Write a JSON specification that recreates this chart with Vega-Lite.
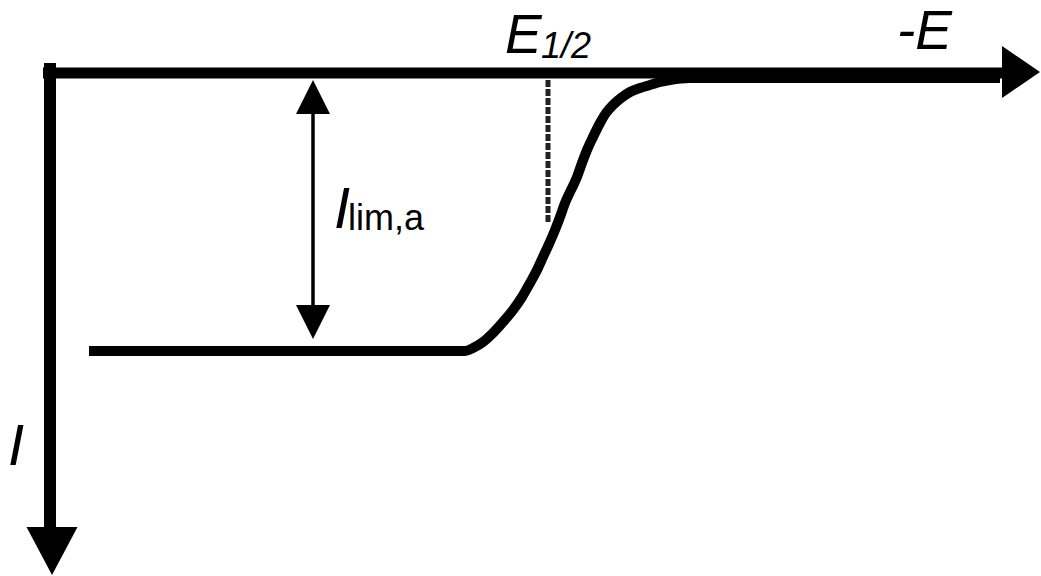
{
  "$schema": "https://vega.github.io/schema/vega-lite/v6.json",
  "width": 1041,
  "height": 576,
  "autosize": {"type": "fit", "contains": "padding"},
  "padding": 0,
  "background": "white",
  "config": {"view": {"stroke": null}},
  "encoding": {
    "x": {"field": "x", "type": "quantitative", "scale": {"domain": [0, 1041], "nice": false, "zero": false}, "axis": null},
    "y": {"field": "y", "type": "quantitative", "scale": {"domain": [0, 576], "nice": false, "zero": false, "reverse": true}, "axis": null}
  },
  "layer": [
    {
      "data": {"values": [{"x": 43, "y": 73, "x2": 1005, "y2": 73}]},
      "mark": {"type": "rule", "color": "#000", "strokeWidth": 11},
      "encoding": {"x2": {"field": "x2"}, "y2": {"field": "y2"}}
    },
    {
      "data": {"values": [{"x": 50, "y": 63, "x2": 50, "y2": 530}]},
      "mark": {"type": "rule", "color": "#000", "strokeWidth": 12},
      "encoding": {"x2": {"field": "x2"}, "y2": {"field": "y2"}}
    },
    {
      "data": {"values": [{"x": 548, "y": 80, "x2": 548, "y2": 222}]},
      "mark": {"type": "rule", "color": "#222", "strokeWidth": 5, "strokeDash": [7, 2]},
      "encoding": {"x2": {"field": "x2"}, "y2": {"field": "y2"}}
    },
    {
      "data": {"values": [{"x": 313, "y": 108, "x2": 313, "y2": 312}]},
      "mark": {"type": "rule", "color": "#000", "strokeWidth": 3.5},
      "encoding": {"x2": {"field": "x2"}, "y2": {"field": "y2"}}
    },
    {
      "data": {"values": [
        {"x": 89, "y": 351}, {"x": 465, "y": 351}, {"x": 473, "y": 348}, {"x": 483, "y": 342},
        {"x": 493, "y": 333}, {"x": 503, "y": 322}, {"x": 513, "y": 310}, {"x": 522, "y": 297},
        {"x": 530, "y": 283}, {"x": 537, "y": 270}, {"x": 543, "y": 257}, {"x": 549, "y": 244},
        {"x": 555, "y": 230}, {"x": 560, "y": 217}, {"x": 565, "y": 203}, {"x": 571, "y": 190},
        {"x": 577, "y": 177}, {"x": 582, "y": 163}, {"x": 587, "y": 150}, {"x": 593, "y": 137},
        {"x": 600, "y": 123}, {"x": 606, "y": 113}, {"x": 613, "y": 105}, {"x": 621, "y": 98},
        {"x": 630, "y": 92}, {"x": 640, "y": 88}, {"x": 650, "y": 85}, {"x": 660, "y": 82},
        {"x": 670, "y": 80}, {"x": 690, "y": 78}, {"x": 1000, "y": 78}
      ]},
      "mark": {"type": "line", "color": "#000", "strokeWidth": 10, "interpolate": "monotone"},
      "encoding": {"order": {"field": "x", "type": "quantitative"}}
    },
    {
      "data": {"values": [{"x": 1021, "y": 72}]},
      "mark": {"type": "point", "filled": true, "opacity": 1, "color": "#000", "size": 2704, "shape": "M-0.73,-1L0.73,0L-0.73,1Z"}
    },
    {
      "data": {"values": [{"x": 52, "y": 551}]},
      "mark": {"type": "point", "filled": true, "opacity": 1, "color": "#000", "size": 2601, "shape": "M-1,-0.94L1,-0.94L0,0.94Z"}
    },
    {
      "data": {"values": [{"x": 313, "y": 97}]},
      "mark": {"type": "point", "filled": true, "opacity": 1, "color": "#000", "size": 1156, "shape": "M0,-1L1,1L-1,1Z"}
    },
    {
      "data": {"values": [{"x": 313, "y": 322}]},
      "mark": {"type": "point", "filled": true, "opacity": 1, "color": "#000", "size": 1156, "shape": "M-1,-1L1,-1L0,1Z"}
    },
    {
      "data": {"values": [{"x": 505, "y": 53, "label": "E"}, {"x": 897, "y": 49, "label": "-E"}]},
      "mark": {"type": "text", "font": "Liberation Sans", "fontStyle": "italic", "fontSize": 55, "align": "left", "baseline": "alphabetic", "color": "#000"},
      "encoding": {"text": {"field": "label"}}
    },
    {
      "data": {"values": [{"x": 541, "y": 58, "label": "1/2"}]},
      "mark": {"type": "text", "font": "Liberation Sans", "fontStyle": "italic", "fontSize": 36, "align": "left", "baseline": "alphabetic", "color": "#000"},
      "encoding": {"text": {"field": "label"}}
    },
    {
      "data": {"values": [{"x": 8, "y": 465, "label": "I"}, {"x": 334, "y": 228, "label": "I"}]},
      "mark": {"type": "text", "font": "Liberation Sans", "fontStyle": "italic", "fontSize": 58, "align": "left", "baseline": "alphabetic", "color": "#000"},
      "encoding": {"text": {"field": "label"}}
    },
    {
      "data": {"values": [{"x": 348, "y": 230, "label": "lim,a"}]},
      "mark": {"type": "text", "font": "Liberation Sans", "fontSize": 36, "align": "left", "baseline": "alphabetic", "color": "#000"},
      "encoding": {"text": {"field": "label"}}
    }
  ]
}
